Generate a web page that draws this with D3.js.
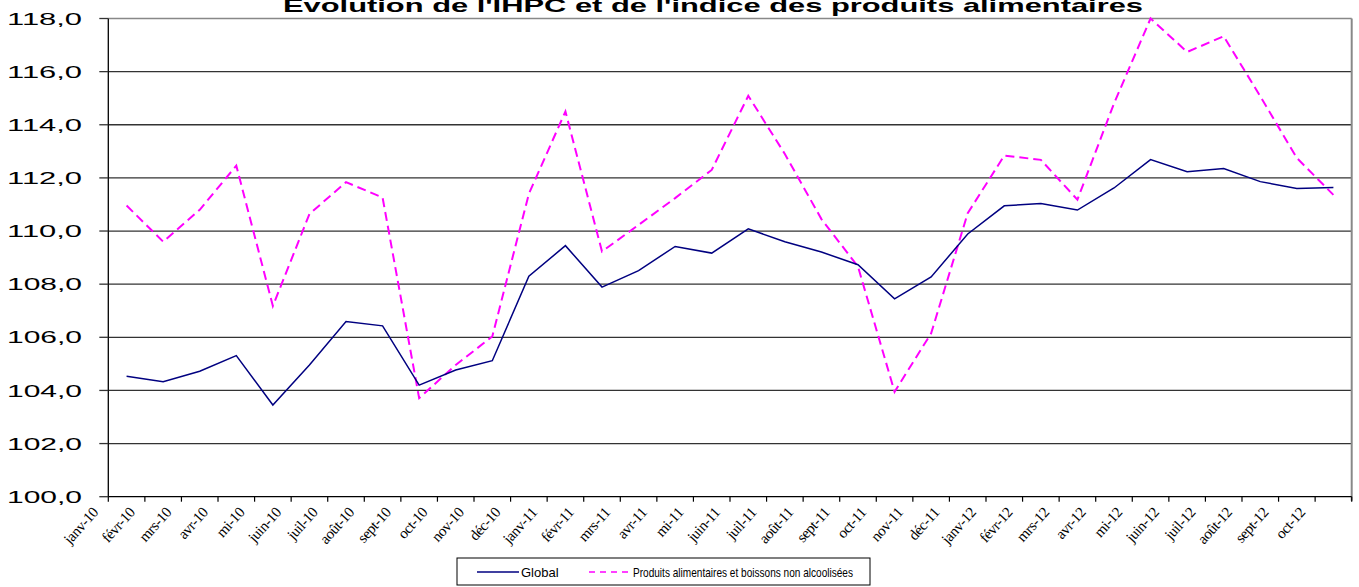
<!DOCTYPE html>
<html><head><meta charset="utf-8">
<script src="https://cdn.jsdelivr.net/npm/d3@7"></script>
<style>html,body{margin:0;padding:0;background:#fff;}svg{display:block;}</style>
</head><body>
<svg id="c" width="1359" height="587"></svg>
<script>
const categories = ["janv-10","févr-10","mars-10","avr-10","mai-10","juin-10","juil-10","août-10","sept-10","oct-10","nov-10","déc-10",
"janv-11","févr-11","mars-11","avr-11","mai-11","juin-11","juil-11","août-11","sept-11","oct-11","nov-11","déc-11",
"janv-12","févr-12","mars-12","avr-12","mai-12","juin-12","juil-12","août-12","sept-12","oct-12"];
const tickLabels = ["janv-10","févr-10","mrs-10","avr-10","mi-10","juin-10","juil-10","août-10","sept-10","oct-10","nov-10","déc-10",
"janv-11","févr-11","mrs-11","avr-11","mi-11","juin-11","juil-11","août-11","sept-11","oct-11","nov-11","déc-11",
"janv-12","févr-12","mrs-12","avr-12","mi-12","juin-12","juil-12","août-12","sept-12","oct-12"];
const globalValues = [104.53,104.33,104.72,105.31,103.45,104.96,106.59,106.43,104.20,104.77,105.12,108.30,
109.45,107.89,108.51,109.42,109.17,110.08,109.60,109.21,108.73,107.45,108.27,109.89,
110.95,111.04,110.79,111.62,112.69,112.23,112.35,111.86,111.60,111.64];
const foodValues = [110.96,109.60,110.80,112.46,107.18,110.64,111.84,111.26,103.71,104.96,106.03,111.40,
114.50,109.23,110.23,111.24,112.30,115.09,112.90,110.45,108.66,103.95,106.15,110.67,
112.84,112.68,111.18,114.80,118.00,116.74,117.33,115.07,112.75,111.36];
const yTicks = [100,102,104,106,108,110,112,114,116,118];
const seriesNames = ["Global","Produits alimentaires et boissons non alcoolisées"];
const title = "Evolution de l'IHPC et de l'indice des produits alimentaires";

const svg = d3.select("#c");
const L = 108.3, R = 1351.7, T = 18.5, B = 496.7;
const x = d3.scaleBand().domain(d3.range(categories.length)).range([L, R]).paddingInner(0).paddingOuter(0);
const y = d3.scaleLinear().domain([100,118]).range([B, T]);
const bw = x.bandwidth();
const fmt = v => d3.format(".1f")(v).replace(".", ",");

// gridlines
svg.append("g").selectAll("line").data(yTicks.filter(v => v > 100)).join("line")
  .attr("x1", L).attr("x2", R).attr("y1", d => y(d)).attr("y2", d => y(d))
  .attr("stroke", d => d === 118 ? "#888" : "#333").attr("stroke-width", d => d===118?1.6:1.3);
// right border
svg.append("line").attr("x1", R).attr("x2", R).attr("y1", T).attr("y2", B+4)
  .attr("stroke", "#888").attr("stroke-width", 2);

// y axis
svg.append("line").attr("x1", L).attr("x2", L).attr("y1", T).attr("y2", B).attr("stroke", "#000").attr("stroke-width", 1.3);
svg.append("g").selectAll("line").data(yTicks).join("line")
  .attr("x1", L-9).attr("x2", L).attr("y1", d => y(d)).attr("y2", d => y(d)).attr("stroke", "#333").attr("stroke-width", 1.3);
svg.append("g").selectAll("text").data(yTicks).join("text")
  .attr("x", 82).attr("y", d => y(d)).attr("dy", "0.36em").attr("text-anchor", "end")
  .attr("font-family", "Liberation Sans, Arial, sans-serif").attr("font-size", 17)
  .attr("textLength", 75).attr("lengthAdjust", "spacingAndGlyphs")
  .text(fmt);

// x axis
svg.append("line").attr("x1", L).attr("x2", R).attr("y1", B).attr("y2", B).attr("stroke", "#000").attr("stroke-width", 1.3);
const bounds = d3.range(categories.length + 1).map(i => i < categories.length ? x(i) : x(i-1) + bw);
svg.append("g").selectAll("line").data(bounds).join("line")
  .attr("x1", d => d).attr("x2", d => d).attr("y1", B).attr("y2", B+5).attr("stroke", "#000").attr("stroke-width", 1.2);
svg.append("g").selectAll("text").data(tickLabels).join("text")
  .attr("transform", (d,i) => `translate(${x(i) - 17},${506}) rotate(-48)`)
  .attr("text-anchor", "end").attr("dy", "0.7em")
  .attr("font-family", "Liberation Serif, Times New Roman, serif").attr("font-size", 15)
  .attr("letter-spacing", -0.4)
  .text(d => d);

// lines
const line = d3.line().x((d,i) => x(i) + bw/2).y(d => y(d));
svg.append("path").datum(foodValues).attr("d", line).attr("fill", "none")
  .attr("stroke", "#FF00FF").attr("stroke-width", 2).attr("stroke-dasharray", "9,5");
svg.append("path").datum(globalValues).attr("d", line).attr("fill", "none")
  .attr("stroke", "#000080").attr("stroke-width", 1.5);

// title
svg.append("text").attr("x", 713).attr("y", 12).attr("text-anchor", "middle")
  .attr("font-family", "Liberation Sans, Arial, sans-serif").attr("font-weight", "bold").attr("font-size", 19)
  .attr("textLength", 860).attr("lengthAdjust", "spacingAndGlyphs").text(title);

// legend
const lg = svg.append("g");
lg.append("rect").attr("x", 457).attr("y", 558).attr("width", 413).attr("height", 27)
  .attr("fill", "#fff").attr("stroke", "#000").attr("stroke-width", 1);
lg.append("line").attr("x1", 477).attr("x2", 519).attr("y1", 572).attr("y2", 572).attr("stroke", "#000080").attr("stroke-width", 1.5);
lg.append("text").attr("x", 521).attr("y", 572).attr("dy", "0.36em").attr("font-family", "Liberation Sans, Arial, sans-serif")
  .attr("font-size", 13).text(seriesNames[0]);
lg.append("line").attr("x1", 589).attr("x2", 631).attr("y1", 572).attr("y2", 572).attr("stroke", "#FF00FF").attr("stroke-width", 1.5).attr("stroke-dasharray", "6,5");
lg.append("text").attr("x", 633).attr("y", 572).attr("dy", "0.36em").attr("font-family", "Liberation Sans, Arial, sans-serif")
  .attr("font-size", 13).attr("textLength", 220).attr("lengthAdjust", "spacingAndGlyphs").text(seriesNames[1]);
</script>
</body></html>
